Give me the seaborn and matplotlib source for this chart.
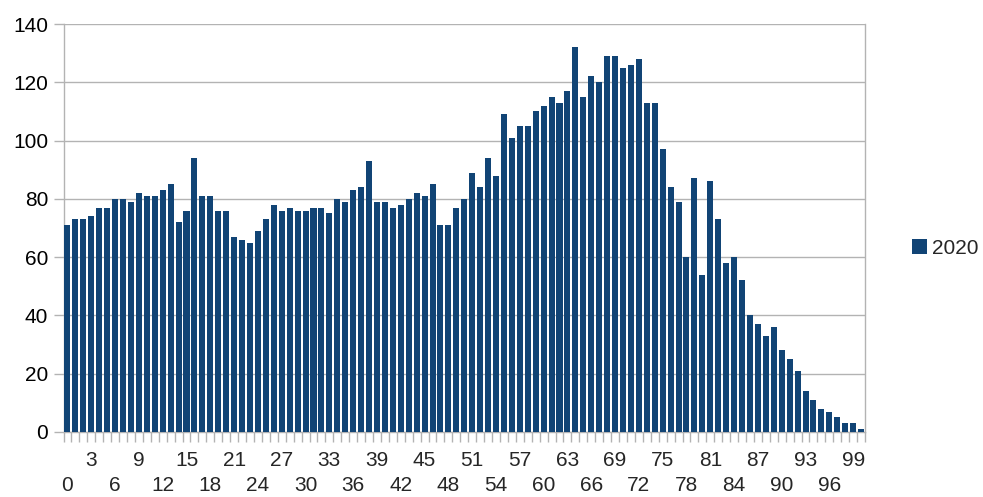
import numpy as np
import pandas as pd
import matplotlib
matplotlib.use("Agg")
import matplotlib.pyplot as plt
import seaborn as sns

# ages 0..100, one bar each
ages = list(range(101))
values_2020 = [
    71, 73, 73, 74, 77, 77, 80, 80, 79, 82,
    81, 81, 83, 85, 72, 76, 94, 81, 81, 76,
    76, 67, 66, 65, 69, 73, 78, 76, 77, 76,
    76, 77, 77, 75, 80, 79, 83, 84, 93, 79,
    79, 77, 78, 80, 82, 81, 85, 71, 71, 77,
    80, 89, 84, 94, 88, 109, 101, 105, 105, 110,
    112, 115, 113, 117, 132, 115, 122, 120, 129, 129,
    125, 126, 128, 113, 113, 97, 84, 79, 60, 87,
    54, 86, 73, 58, 60, 52, 40, 37, 33, 36,
    28, 25, 21, 14, 11, 8, 7, 5, 3, 3,
    1,
]
series_name = "2020"
upper_labels = list(range(3, 101, 6))   # 3, 9, 15, ...
lower_labels = list(range(0, 101, 6))   # 0, 6, 12, ...

df = pd.DataFrame({"age": ages, "count": values_2020, "year": series_name})

sns.set_style("white")
plt.rcParams["font.family"] = ["Liberation Sans", "DejaVu Sans"]
plt.rcParams["font.size"] = 15

fig = plt.figure(figsize=(9.83, 4.97), dpi=100)
ax = fig.add_axes([0.0646, 0.1308, 0.8154, 0.8209])

grid_c = "#b3b3b3"
sns.barplot(data=df, x="age", y="count", hue="year", palette=["#004586"],
            width=0.76, linewidth=0, ax=ax, legend=True, zorder=3)

ax.set_xlim(-0.5, len(ages) - 0.5)
ax.set_ylim(0, 140)
ax.set_yticks(range(0, 141, 20))
ax.yaxis.grid(True, color=grid_c, linewidth=1, zorder=0)
ax.set_axisbelow(True)
ax.set_xlabel("")
ax.set_ylabel("")

for side in ["left", "right", "bottom"]:
    ax.spines[side].set_visible(True)
    ax.spines[side].set_color(grid_c)
    ax.spines[side].set_linewidth(1)
ax.spines["top"].set_visible(False)

ax.tick_params(axis="y", left=True, length=7, width=1, color=grid_c, pad=4,
               labelsize=15, labelcolor="#000000")

# small ticks between categories, no labels
ax.set_xticks(np.arange(-0.5, len(ages), 1.0))
ax.set_xticklabels([])
ax.tick_params(axis="x", which="major", bottom=True, length=7, width=1,
               color=grid_c, direction="out")

# staggered category labels
ax.set_xticks(upper_labels, minor=True)
ax.set_xticklabels([str(a) for a in upper_labels], minor=True)
ax.tick_params(axis="x", which="minor", bottom=True, length=0, pad=14, labelsize=15)

sec = ax.secondary_xaxis("bottom")
sec.set_xticks(lower_labels)
sec.set_xticklabels([str(a) for a in lower_labels])
sec.tick_params(axis="x", bottom=True, length=0, pad=32, labelsize=15)
sec.spines["bottom"].set_visible(False)

ax.legend_.remove()
handles, labels = ax.get_legend_handles_labels()
fig.legend(handles, labels, loc="center left", bbox_to_anchor=(0.928, 0.5),
           borderaxespad=0, borderpad=0, frameon=False, handlelength=0.7,
           handleheight=0.7, handletextpad=0.25, fontsize=15)

fig.savefig("out.png", dpi=100)
